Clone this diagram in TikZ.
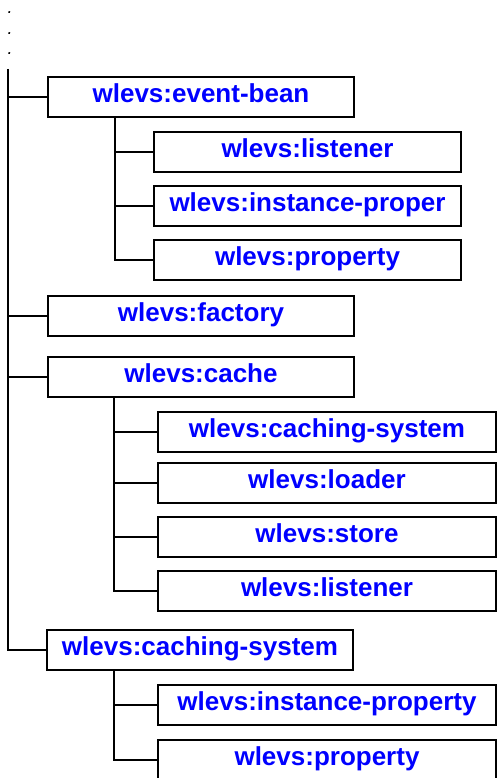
\documentclass[tikz,border=0pt]{standalone}
\usepackage{fontspec}
\setmainfont{Liberation Sans}
\usepackage{tikz}

\tikzset{
  elem/.style={draw, line width=1.6pt, minimum height=40pt, inner ysep=0pt,
               text height=19pt, text depth=8pt, text=blue,
               font=\fontsize{26}{30}\selectfont\bfseries},
  topelem/.style={elem, minimum width=306pt},
  subelem/.style={elem, minimum width=307pt},
  wideelem/.style={elem, minimum width=338pt},
  link/.style={line width=1.6pt},
  ellip/.style={font=\fontsize{18}{20.5}\selectfont\itshape, inner sep=0pt,
                align=left, text depth=0pt, anchor=south}
}

\begin{document}
\begin{tikzpicture}[x=1pt, y=-1pt]
\useasboundingbox (0,0) rectangle (497,778);

\node[ellip] (dots) at (10,55) {.\\.\\.};

% -------- top level -----------
\node[topelem] (eb)    at (201,97)  {wlevs:event-bean};
\node[topelem] (fac)   at (201,316) {wlevs:factory};
\node[topelem] (cache) at (201,377) {wlevs:cache};
\node[topelem] (cs)    at (200,650) {wlevs:caching-system};

% -------- event-bean children -----------
\node[subelem] (lis1)  at (307.5,152) {wlevs:listener};
\node[subelem] (ip1)   at (307.5,206) {wlevs:instance-proper};
\node[subelem] (prop1) at (307.5,260) {wlevs:property};

% -------- cache children -----------
\node[wideelem] (ccs)  at (327,432) {wlevs:caching-system};
\node[wideelem] (ld)   at (327,483) {wlevs:loader};
\node[wideelem] (st)   at (327,537) {wlevs:store};
\node[wideelem] (lis2) at (327,591) {wlevs:listener};

% -------- caching-system children -----------
\node[wideelem] (ip2)   at (327,705) {wlevs:instance-property};
\node[wideelem] (prop2) at (327,760) {wlevs:property};

% -------- tree lines -----------
\coordinate (root) at (8,69);
\draw[link] (root) |- (cs.west);
\foreach \n in {eb,fac,cache}
  \draw[link] (root |- \n.west) -- (\n.west);

\coordinate (ebt) at ([xshift=68pt]eb.south west);
\draw[link] (ebt) |- (prop1.west);
\foreach \n in {lis1,ip1}
  \draw[link] (ebt |- \n.west) -- (\n.west);

\coordinate (cat) at ([xshift=67pt]cache.south west);
\draw[link] (cat) |- (lis2.west);
\foreach \n in {ccs,ld,st}
  \draw[link] (cat |- \n.west) -- (\n.west);

\coordinate (cst) at ([xshift=68pt]cs.south west);
\draw[link] (cst) |- (prop2.west);
\draw[link] (cst |- ip2.west) -- (ip2.west);
\end{tikzpicture}
\end{document}
